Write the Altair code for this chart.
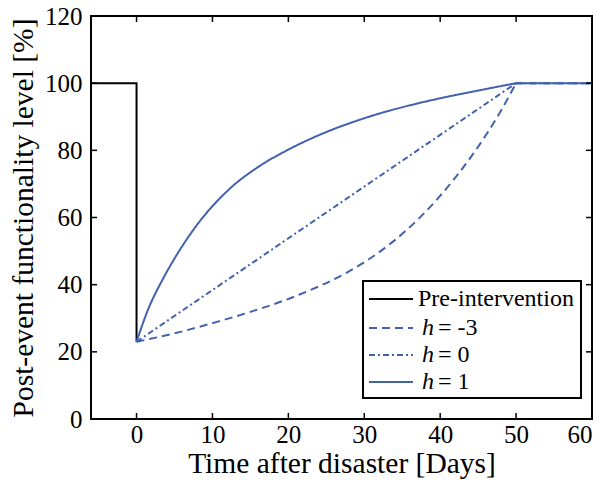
import altair as alt
import pandas as pd

# ---- data ----
pre_t = [-6, 0, 0]
pre_v = [100, 100, 23]

hm3_t = [0, 5, 10.7, 15, 21.4, 27.7, 31.6, 35.5, 39.9, 44.2, 47.7, 50, 60]
hm3_v = [23, 25.5, 29.0, 31.9, 37.0, 43.6, 49.1, 56.1, 66.2, 78.5, 90.6, 100, 100]

h0_t = [0, 50, 60]
h0_v = [23, 100, 100]

h1_t = [0, 1.5, 3.4, 4.9, 7.8, 12.1, 16.4, 19.9, 25.6, 29, 32.5, 36, 40, 45, 50, 60]
h1_v = [23, 32.5, 41.4, 47.4, 57.3, 68.2, 75.6, 80.1, 86.0, 88.8, 91.3, 93.4, 95.5, 97.8, 100, 100]

series_names = ["pre", "h=-3", "h=0", "h=1"]
x_ticks = [0, 10, 20, 30, 40, 50, 60]
y_ticks = [0, 20, 40, 60, 80, 100, 120]

W, H = 501, 403
BLUE = "#4262AE"
FONT = "Liberation Serif"

rows = []
for name, ts, vs in [("pre", pre_t, pre_v), ("h=-3", hm3_t, hm3_v),
                     ("h=0", h0_t, h0_v), ("h=1", h1_t, h1_v)]:
    for i, (t, v) in enumerate(zip(ts, vs)):
        rows.append({"series": name, "t": t, "v": v, "i": i})
df = pd.DataFrame(rows)

xs = alt.Scale(domain=[-6, 60], nice=False, zero=False)
ys = alt.Scale(domain=[0, 120], nice=False, zero=False)
xax = alt.Axis(values=x_ticks, title="Time after disaster [Days]", labelPadding=3,
               titlePadding=2, tickSize=0)
yax = alt.Axis(values=y_ticks, title="Post-event functionality level [%]", labelPadding=9,
               titlePadding=6, tickSize=0)

color = alt.Color("series:N", scale=alt.Scale(domain=series_names,
                  range=["black", BLUE, BLUE, BLUE]), legend=None)
dash = alt.StrokeDash("series:N", scale=alt.Scale(domain=series_names,
                      range=[[1, 0], [8, 5], [6, 3, 2, 3], [1, 0]]), legend=None)

base = alt.Chart(df).encode(
    x=alt.X("t:Q", scale=xs, axis=xax),
    y=alt.Y("v:Q", scale=ys, axis=yax),
    order="i:Q", color=color, strokeDash=dash)

pre_layer = base.transform_filter("datum.series == 'pre'").mark_line(strokeWidth=2)
curve_layer = base.transform_filter("datum.series != 'pre' && datum.t <= 50").mark_line(
    strokeWidth=2, interpolate="monotone")
flat_layer = base.transform_filter("datum.series != 'pre' && datum.t >= 50").mark_line(
    strokeWidth=2)

# inward ticks on all four sides
tx = pd.DataFrame({"t": x_ticks})
ty = pd.DataFrame({"v": y_ticks})
TL = 6
tick_b = alt.Chart(tx).mark_rule(color="black", strokeWidth=1.5).encode(
    x=alt.X("t:Q", scale=xs, axis=xax), y=alt.value(H), y2=alt.value(H - TL))
tick_t = alt.Chart(tx).mark_rule(color="black", strokeWidth=1.5).encode(
    x=alt.X("t:Q", scale=xs, axis=xax), y=alt.value(0), y2=alt.value(TL))
tick_l = alt.Chart(ty).mark_rule(color="black", strokeWidth=1.5).encode(
    y=alt.Y("v:Q", scale=ys, axis=yax), x=alt.value(0), x2=alt.value(TL))
tick_r = alt.Chart(ty).mark_rule(color="black", strokeWidth=1.5).encode(
    y=alt.Y("v:Q", scale=ys, axis=yax), x=alt.value(W), x2=alt.value(W - TL))

# legend (drawn manually to allow italic "h")
one = pd.DataFrame({"a": [0]})
leg_box = alt.Chart(one).mark_rect(fill="white", stroke="black", strokeWidth=2).encode(
    x=alt.value(272), x2=alt.value(490), y=alt.value(265), y2=alt.value(382))

leg_layers = [leg_box]
rows_y = [283, 312, 339, 366]
styles = [("black", [1, 0]), (BLUE, [8, 5]), (BLUE, [6, 3, 2, 3]), (BLUE, [1, 0])]
for yy, (c, d) in zip(rows_y, styles):
    leg_layers.append(alt.Chart(one).mark_rule(color=c, strokeDash=d, strokeWidth=2).encode(
        x=alt.value(278), x2=alt.value(322), y=alt.value(yy)))
leg_layers.append(alt.Chart(one).mark_text(font=FONT, fontSize=24, align="left",
                  baseline="middle", color="black").encode(
    x=alt.value(327), y=alt.value(rows_y[0]), text=alt.value("Pre-intervention")))
for yy, lab in zip(rows_y[1:], ["= -3", "= 0", "= 1"]):
    leg_layers.append(alt.Chart(one).mark_text(font=FONT, fontSize=24, align="left",
                      baseline="middle", fontStyle="italic", color="black").encode(
        x=alt.value(331), y=alt.value(yy), text=alt.value("h")))
    leg_layers.append(alt.Chart(one).mark_text(font=FONT, fontSize=24, align="left",
                      baseline="middle", color="black").encode(
        x=alt.value(347), y=alt.value(yy), text=alt.value(lab)))

chart = alt.layer(pre_layer, curve_layer, flat_layer, tick_b, tick_t, tick_l, tick_r,
                  *leg_layers).properties(
    width=W, height=H,
    autosize=alt.AutoSizeParams(type="none"),
    padding={"left": 83, "top": 8, "right": 12, "bottom": 71},
).configure_view(stroke="black", strokeWidth=2).configure_axis(
    domain=False, ticks=False, grid=False,
    labelFont=FONT, labelFontSize=25, labelColor="black",
    titleFont=FONT, titleFontSize=29.5, titleFontWeight="normal", titleColor="black",
)

chart.save("out.html", embed_options={"renderer": "svg", "actions": False})
